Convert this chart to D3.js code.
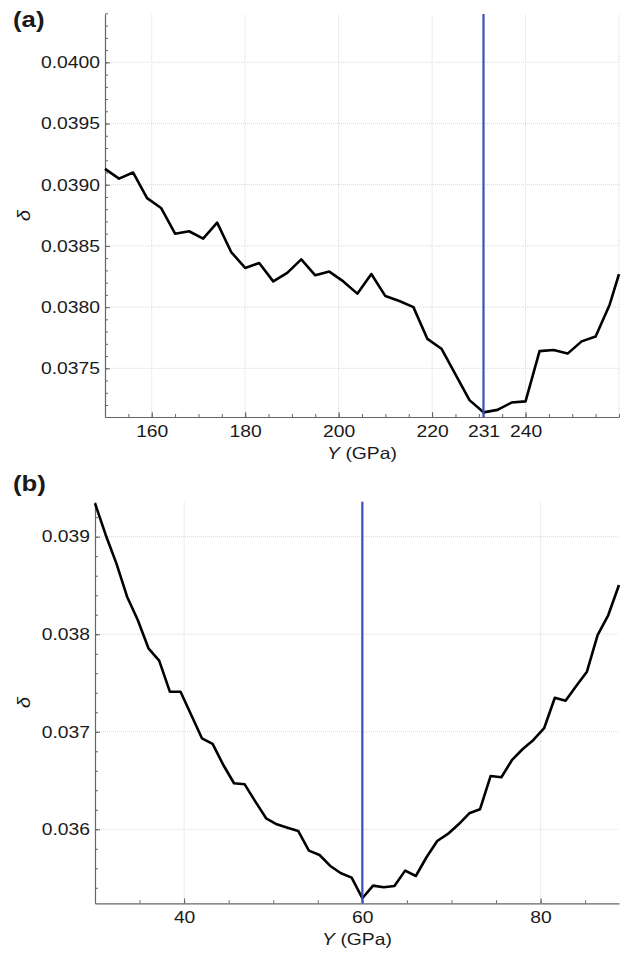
<!DOCTYPE html>
<html>
<head>
<meta charset="utf-8">
<script src="https://cdn.jsdelivr.net/npm/d3@7"></script>
<style>
  html, body { margin: 0; padding: 0; background: #fff; }
  svg { display: block; }
  text { font-family: "Liberation Sans", Arial, Helvetica, sans-serif; fill: #1a1a1a; }
</style>
</head>
<body>
<svg id="fig" width="624" height="956"></svg>
<script>
// Panel (a): error delta versus trial Young's modulus (GPa)
const youngA = [150, 153, 156, 159, 162, 165, 168, 171, 174, 177, 180, 183, 186, 189,
  192, 195, 198, 201, 204, 207, 210, 213, 216, 219, 222, 225, 228, 231, 234, 237,
  240, 243, 246, 249, 252, 255, 258, 260];
const deltaA = [0.03913, 0.03905, 0.03910, 0.03889, 0.03881, 0.03860, 0.03862, 0.03856,
  0.03869, 0.03845, 0.03832, 0.03836, 0.03821, 0.03828, 0.03839, 0.03826, 0.03829,
  0.03821, 0.03811, 0.03827, 0.03809, 0.03805, 0.03800, 0.03774, 0.03766, 0.03745,
  0.03724, 0.03714, 0.03716, 0.03722, 0.03723, 0.03764, 0.03765, 0.03762, 0.03772,
  0.03776, 0.03802, 0.03827];
const bestA = 231;
const xTicksA = [160, 180, 200, 220, 231, 240];
const yTicksA = [0.0375, 0.0380, 0.0385, 0.0390, 0.0395, 0.0400];

// Panel (b)
const youngB = [30.0, 31.2, 32.4, 33.6, 34.8, 36.0, 37.2, 38.4, 39.6, 40.8, 42.0, 43.2,
  44.4, 45.6, 46.8, 48.0, 49.2, 50.4, 51.6, 52.8, 54.0, 55.2, 56.4, 57.6, 58.8, 60.0,
  61.2, 62.4, 63.6, 64.8, 66.0, 67.2, 68.4, 69.6, 70.8, 72.0, 73.2, 74.4, 75.6, 76.8,
  78.0, 79.2, 80.4, 81.6, 82.8, 84.0, 85.2, 86.4, 87.6, 88.8];
const deltaB = [0.039343, 0.039018, 0.038727, 0.038385, 0.038146, 0.037856, 0.037729,
  0.037411, 0.037411, 0.037172, 0.036933, 0.036875, 0.036659, 0.036472, 0.036461,
  0.036283, 0.036113, 0.036051, 0.036016, 0.035983, 0.035781, 0.035736, 0.035624,
  0.035549, 0.035504, 0.035293, 0.035422, 0.035405, 0.035419, 0.035576, 0.035521,
  0.035713, 0.035880, 0.035952, 0.036051, 0.036164, 0.036205, 0.036547, 0.036533,
  0.036711, 0.036823, 0.036916, 0.037036, 0.037349, 0.037319, 0.037469, 0.037616,
  0.037992, 0.038197, 0.038505];
const bestB = 60;
const xTicksB = [40, 60, 80];
const yTicksB = [0.036, 0.037, 0.038, 0.039];

const svg = d3.select("#fig");
const FONT = 16.5;
const STRETCH = 1.17;

function drawPanel(cfg) {
  const g = svg.append("g");
  const x = d3.scaleLinear().domain(cfg.xDomain).range([cfg.left, cfg.right]);
  const y = d3.scaleLinear().domain(cfg.yDomain).range([cfg.bottom, cfg.top]);

  // dotted grid
  const grid = g.append("g").attr("stroke", "#d9d9d9").attr("stroke-width", 1)
    .attr("stroke-dasharray", "1,1").attr("fill", "none");
  grid.selectAll("line.gx").data(cfg.xGrid).join("line")
    .attr("x1", d => x(d)).attr("x2", d => x(d))
    .attr("y1", cfg.top).attr("y2", cfg.bottom);
  grid.selectAll("line.gy").data(cfg.yTicks).join("line")
    .attr("x1", cfg.left).attr("x2", cfg.right)
    .attr("y1", d => y(d)).attr("y2", d => y(d));

  // minor ticks (inward)
  const xMinor = d3.axisBottom(x).tickValues(cfg.xMinor).tickSize(-3).tickFormat("").tickSizeOuter(0);
  const yMinor = d3.axisLeft(y).tickValues(cfg.yMinor).tickSize(-3).tickFormat("").tickSizeOuter(0);
  g.append("g").attr("transform", `translate(0,${cfg.bottom})`).call(xMinor)
    .call(s => s.select(".domain").remove())
    .call(s => s.selectAll("line").attr("stroke", "#666"));
  g.append("g").attr("transform", `translate(${cfg.left},0)`).call(yMinor)
    .call(s => s.select(".domain").remove())
    .call(s => s.selectAll("line").attr("stroke", "#666"));

  // major axes
  const xAxis = d3.axisBottom(x).tickValues(cfg.xTicks).tickSize(-5).tickSizeOuter(0)
    .tickPadding(8).tickFormat(d3.format("d"));
  const yAxis = d3.axisLeft(y).tickValues(cfg.yTicks).tickSize(-5).tickSizeOuter(0)
    .tickPadding(5).tickFormat(d3.format(cfg.yFormat));
  const gx = g.append("g").attr("transform", `translate(0,${cfg.bottom})`).call(xAxis);
  const gy = g.append("g").attr("transform", `translate(${cfg.left},0)`).call(yAxis);
  [gx, gy].forEach(a => {
    a.attr("font-family", null).attr("font-size", FONT);
    a.select(".domain").attr("stroke", "#666").attr("stroke-width", 1.2);
    a.selectAll(".tick line").attr("stroke", "#666");
    a.selectAll(".tick text").attr("fill", "#1a1a1a");
  });

  // data curve
  const pts = cfg.xs.map((v, i) => [v, cfg.ys[i]]);
  g.append("path").datum(pts)
    .attr("fill", "none").attr("stroke", "#000").attr("stroke-width", 2.6)
    .attr("stroke-linejoin", "round")
    .attr("d", d3.line().x(d => x(d[0])).y(d => y(d[1])));

  // best-fit modulus marker
  g.append("line")
    .attr("x1", x(cfg.best)).attr("x2", x(cfg.best))
    .attr("y1", cfg.top).attr("y2", cfg.bottom)
    .attr("stroke", "#3c50b9").attr("stroke-width", 2.2);

  // axis titles
  const xt = g.append("text").attr("x", (cfg.left + cfg.right) / 2).attr("y", cfg.bottom + 42)
    .attr("text-anchor", "middle").attr("font-size", FONT);
  xt.append("tspan").attr("font-style", "italic").text("Y");
  xt.append("tspan").text(" (GPa)");

  g.append("text").attr("transform", `translate(30,${(cfg.top + cfg.bottom) / 2}) rotate(-90)`)
    .attr("text-anchor", "middle").attr("font-size", FONT + 1).attr("font-style", "italic").text("δ");

  g.append("text").attr("x", 13).attr("y", cfg.labelY)
    .attr("font-size", 22).attr("font-weight", "bold").text(cfg.label);
}

drawPanel({
  label: "(a)", labelY: 27,
  left: 105, right: 619, top: 14, bottom: 417,
  xDomain: [150, 260], yDomain: [0.037102, 0.040395],
  xTicks: xTicksA, yTicks: yTicksA, yFormat: ".4f",
  xGrid: [160, 180, 200, 220, 240, 260],
  xMinor: d3.range(155, 261, 5), yMinor: d3.range(0.0372, 0.04041, 0.0001),
  xs: youngA, ys: deltaA, best: bestA
});

drawPanel({
  label: "(b)", labelY: 491,
  left: 95, right: 619, top: 501.7, bottom: 903.3,
  xDomain: [30, 88.8], yDomain: [0.035241, 0.039359],
  xTicks: xTicksB, yTicks: yTicksB, yFormat: ".3f",
  xGrid: [40, 60, 80],
  xMinor: d3.range(35, 88.8, 5), yMinor: d3.range(0.0354, 0.03936, 0.0002),
  xs: youngB, ys: deltaB, best: bestB
});

// widen glyphs slightly to match the figure's wide lettering
svg.selectAll("text").each(function () {
  const w = this.getComputedTextLength();
  if (w > 0) {
    d3.select(this).attr("textLength", w * STRETCH).attr("lengthAdjust", "spacingAndGlyphs");
  }
});
</script>
</body>
</html>
